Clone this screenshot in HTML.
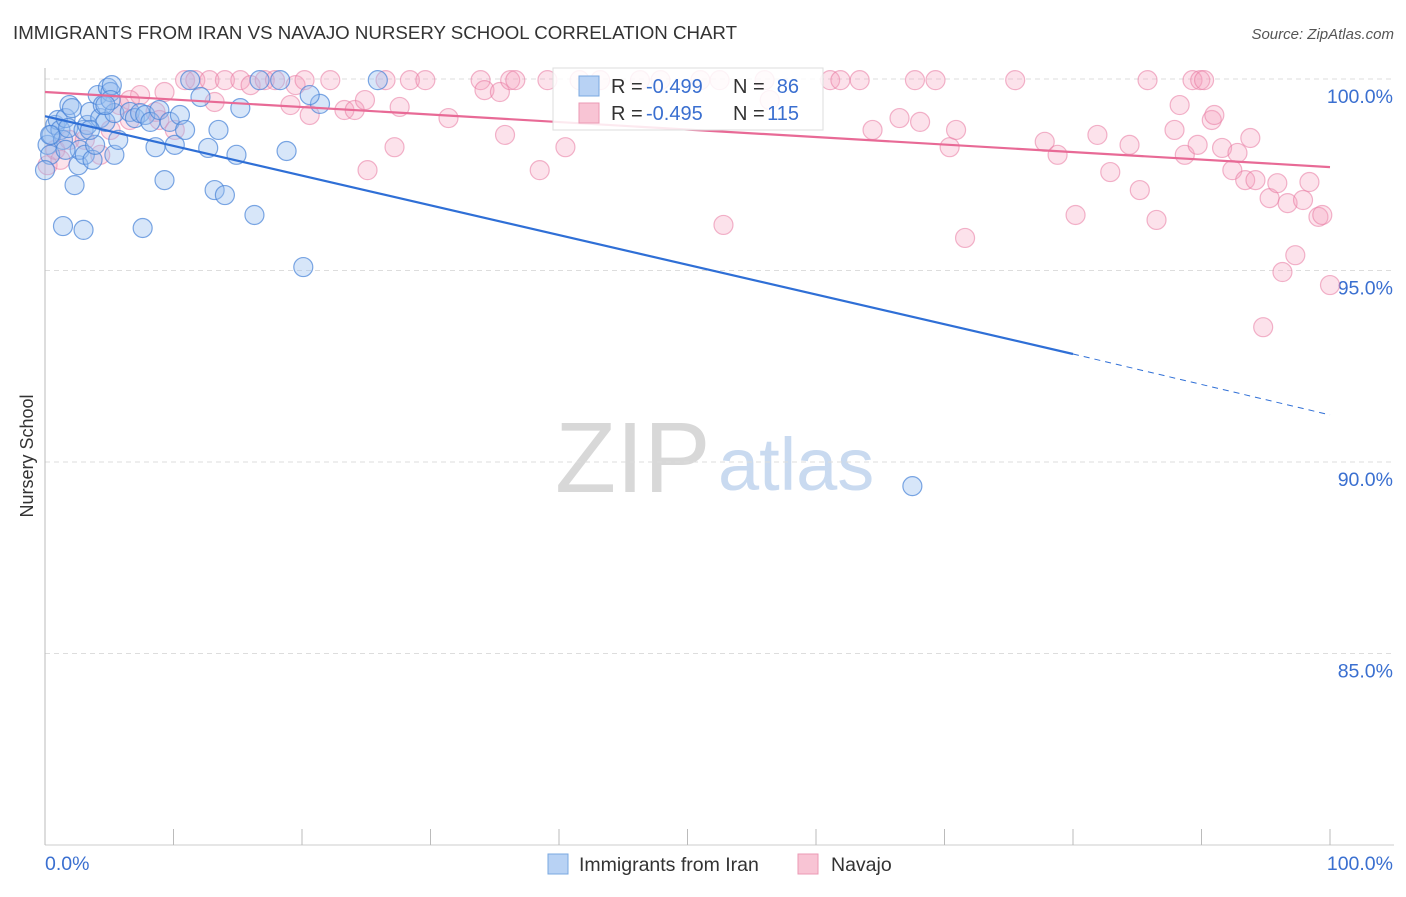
<!DOCTYPE html>
<html><head><meta charset="utf-8"><style>
body{margin:0;background:#fff;font-family:"Liberation Sans",sans-serif}
svg text{font-family:"Liberation Sans",sans-serif}
</style></head><body>
<svg id="chart" width="1406" height="892" xmlns="http://www.w3.org/2000/svg">
<text x="13" y="39" font-size="18.5" fill="#333" textLength="724" lengthAdjust="spacingAndGlyphs">IMMIGRANTS FROM IRAN VS NAVAJO NURSERY SCHOOL CORRELATION CHART</text>
<text x="1394" y="39" font-size="15" fill="#555" text-anchor="end" font-style="italic">Source: ZipAtlas.com</text>
<g>
<text x="555" y="492" font-size="100" fill="#d8d8d8" font-family="Liberation Serif,serif">ZIP</text>
<text x="718" y="490" font-size="74" fill="#c9daf0">atlas</text>
</g>
<g id="grid"></g>
<g id="axes"></g>
<g id="pink"></g>
<g id="blue"></g>
<g id="lines"></g>
<text transform="translate(33,456) rotate(-90)" font-size="18" fill="#333" text-anchor="middle">Nursery School</text>
<g>
<rect x="553" y="68" width="270" height="62" fill="#fff" fill-opacity="0.85" stroke="#ddd"/>
<rect x="579" y="76" width="20" height="20" fill="#b8d2f4" stroke="#7aa8e0"/>
<text x="611" y="93" font-size="20" fill="#333">R = </text>
<text x="646" y="93" font-size="20" fill="#3a6fd0">-0.499</text>
<text x="733" y="93" font-size="20" fill="#333">N =</text>
<text x="799" y="93" font-size="20" fill="#3a6fd0" text-anchor="end">86</text>
<rect x="579" y="103" width="20" height="20" fill="#f8c4d4" stroke="#eb9ab4"/>
<text x="611" y="120" font-size="20" fill="#333">R = </text>
<text x="646" y="120" font-size="20" fill="#3a6fd0">-0.495</text>
<text x="733" y="120" font-size="20" fill="#333">N =</text>
<text x="799" y="120" font-size="20" fill="#3a6fd0" text-anchor="end">115</text>
</g>
<g>
<rect x="548" y="854" width="20" height="20" fill="#b8d2f4" stroke="#7aa8e0"/>
<text x="579" y="871" font-size="19.5" fill="#333">Immigrants from Iran</text>
<rect x="798" y="854" width="20" height="20" fill="#f8c4d4" stroke="#eb9ab4"/>
<text x="831" y="871" font-size="19.5" fill="#333">Navajo</text>
</g>
</svg>
<script>
const yTicks=[100,95,90,85];
const yTickLabels=["100.0%","95.0%","90.0%","85.0%"];
const xTickLabels=["0.0%","100.0%"];
const blueX=[0.2,0.4,0.5,0.8,1.0,1.2,1.4,1.6,1.8,1.9,2.1,2.3,2.6,2.7,3.0,3.1,3.3,3.5,3.7,3.9,4.1,4.3,4.5,4.7,4.9,5.1,5.2,5.4,5.7,5.4,6.6,7.0,7.4,7.8,8.2,8.6,8.9,9.3,9.7,10.1,10.5,10.9,11.3,12.1,12.7,13.2,13.5,14.0,14.9,15.2,16.3,16.7,18.8,20.1,21.4,25.9,67.5,1.4,3.0,7.6,0,5.1,0.4,1.6,3.5,4.7,18.3,20.6];
const blueY=[98.28,98.02,98.54,98.80,98.93,98.67,98.41,98.98,98.72,99.32,99.24,97.23,97.75,98.15,98.67,98.02,98.80,99.14,97.89,98.28,99.58,98.98,99.32,98.88,99.77,99.66,99.84,98.02,98.41,99.11,99.14,98.98,99.11,99.06,98.88,98.22,99.19,97.36,98.88,98.28,99.06,98.67,99.97,99.53,98.20,97.10,98.67,96.97,98.02,99.24,96.45,99.97,98.12,95.09,99.35,99.97,89.37,96.16,96.06,96.11,97.62,99.45,98.54,98.15,98.67,99.32,99.97,99.58];
const pinkX=[0.2,0.8,1.9,3.1,4.3,5.8,6.6,7.4,8.6,8.9,9.3,10.9,11.7,12.8,13.2,14.0,15.2,16.0,17.1,17.9,19.1,19.5,20.2,20.6,22.2,23.3,24.1,24.9,25.1,26.5,27.2,27.6,28.4,29.6,31.4,33.9,34.2,35.4,36.2,36.6,35.8,38.5,39.1,40.5,41.6,43.2,46.3,47.9,51.0,52.5,52.8,56.0,56.4,61.1,61.9,63.4,64.4,66.5,67.7,68.1,69.3,70.4,70.9,71.6,75.5,77.8,78.8,80.2,81.9,82.9,84.4,85.2,85.8,86.5,87.9,88.3,88.7,89.3,89.9,90.2,89.7,90.8,91.0,91.6,92.4,92.8,93.4,93.8,94.2,94.8,95.3,95.9,96.3,96.7,97.3,97.9,98.4,99.1,99.4,100,1.2,5.1,6.6,10.1];
const pinkY=[97.75,98.15,98.41,98.41,98.02,99.32,98.93,99.58,99.14,98.93,99.66,99.97,99.97,99.97,99.40,99.97,99.97,99.84,99.97,99.97,99.32,99.84,99.97,99.06,99.97,99.19,99.19,99.45,97.62,99.97,98.22,99.27,99.97,99.97,98.98,99.97,99.71,99.66,99.97,99.97,98.54,97.62,99.97,98.22,99.97,99.97,99.97,99.97,99.97,99.97,96.19,99.97,99.45,99.97,99.97,99.97,98.67,98.98,99.97,98.88,99.97,98.22,98.67,95.85,99.97,98.36,98.02,96.45,98.54,97.57,98.28,97.10,99.97,96.32,98.67,99.32,98.02,99.97,99.97,99.97,98.28,98.93,99.06,98.20,97.62,98.07,97.36,98.46,97.36,93.52,96.89,97.28,94.96,96.76,95.40,96.84,97.31,96.40,96.45,94.62,97.89,98.67,99.45,98.67];
const blueTrend=[99.03,92.82,91.23]; // at x=0, x=80 (solid end), x=100 (dashed end)
const pinkTrend=[99.66,97.70]; // at x=0, x=100
const X=v=>45+v*12.85, Y=v=>79+(100-v)*38.3;
const NS="http://www.w3.org/2000/svg";
function mk(t,a,p){const e=document.createElementNS(NS,t);for(const k in a)e.setAttribute(k,a[k]);p.appendChild(e);return e;}
const grid=document.getElementById('grid'),axes=document.getElementById('axes');
yTicks.forEach((t,i)=>{
 const g=mk('line',{x1:45,x2:1394,y1:Y(t),y2:Y(t),stroke:'#ddd','stroke-dasharray':'5,4'},grid);
 
 
 const l=mk('text',{x:1393,y:Y(t)+24,'font-size':19.5,fill:'#3a6fd0','text-anchor':'end'},axes);
 l.textContent=yTickLabels[i];
 
 
});
mk('line',{x1:45,x2:45,y1:68,y2:845,stroke:'#bbb'},axes);
mk('line',{x1:45,x2:1394,y1:845,y2:845,stroke:'#ccc'},axes);
for(let i=0;i<=10;i++){const t=mk('line',{x1:X(i*10),x2:X(i*10),y1:829,y2:845,stroke:'#bbb'},axes);
 
 }
[[0,45,'start'],[1,1393,'end']].forEach(([i,x,a])=>{const l=mk('text',{x:x,y:870,'font-size':19.5,fill:'#3a6fd0','text-anchor':a},axes);l.textContent=xTickLabels[i];
 
 });
const pg=document.getElementById('pink');
pinkX.forEach((v,i)=>{const c=mk('circle',{cx:X(v),cy:Y(pinkY[i]),r:9.5,fill:'rgba(244,160,188,0.3)',stroke:'rgba(232,120,160,0.55)','stroke-width':1.2},pg);
 
 });
const bg=document.getElementById('blue');
blueX.forEach((v,i)=>{const c=mk('circle',{cx:X(v),cy:Y(blueY[i]),r:9.5,fill:'rgba(150,188,238,0.38)',stroke:'rgba(70,130,215,0.7)','stroke-width':1.2},bg);
 
 });
const lg=document.getElementById('lines');
const b1=mk('line',{x1:X(0),y1:Y(blueTrend[0]),x2:X(80),y2:Y(blueTrend[1]),stroke:'#2f6fd6','stroke-width':2.2},lg);


const b2=mk('line',{x1:X(80),y1:Y(blueTrend[1]),x2:X(100),y2:Y(blueTrend[2]),stroke:'#2f6fd6','stroke-width':1,'stroke-dasharray':'6,5'},lg);


const p1=mk('line',{x1:X(0),y1:Y(pinkTrend[0]),x2:X(100),y2:Y(pinkTrend[1]),stroke:'#e86a96','stroke-width':2.2},lg);


</script>
</body></html>
